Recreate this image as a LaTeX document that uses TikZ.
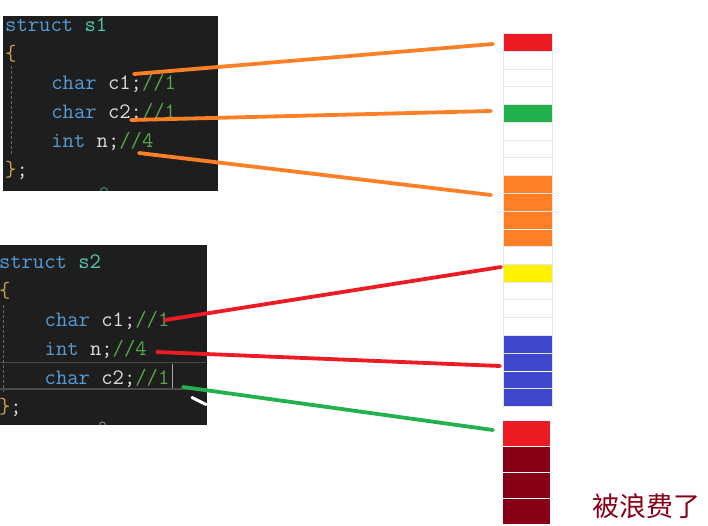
\documentclass[tikz,border=0pt]{standalone}
\usepackage{fontspec}
\newfontfamily\cjkfont{Noto Sans CJK SC}
\usetikzlibrary{positioning,calc}
\definecolor{codebg}{HTML}{1E1E1E}
\definecolor{ckw}{HTML}{569CD6}
\definecolor{cname}{HTML}{4EC9B0}
\definecolor{cid}{HTML}{DCDCDC}
\definecolor{ccmt}{HTML}{57A64A}
\definecolor{cbrace}{HTML}{C9A44C}
\definecolor{cguide}{HTML}{6A6A6A}
\definecolor{cline}{HTML}{4A4A4A}
\definecolor{gridgray}{HTML}{E6E6E6}
\definecolor{pred}{HTML}{ED1C24}
\definecolor{pgreen}{HTML}{22B14C}
\definecolor{porange}{HTML}{FF7F27}
\definecolor{pyellow}{HTML}{FFF200}
\definecolor{pblue}{HTML}{3F48CC}
\definecolor{pdark}{HTML}{880015}
\newcommand{\codefont}{\ttfamily\fontsize{22}{26}\selectfont}
\newcommand{\Kw}[1]{\textcolor{ckw}{#1}}
\newcommand{\Nm}[1]{\textcolor{cname}{#1}}
\newcommand{\Cm}[1]{\textcolor{ccmt}{#1}}
\newcommand{\Br}[1]{\textcolor{cbrace}{#1}}
\tikzset{
  codeln/.style={anchor=base west, inner sep=0pt, text=cid, font=\codefont},
  guide/.style={cguide, line width=0.8pt, dash pattern=on 3pt off 2pt},
  memcell/.style={draw=gridgray, line width=0.9pt, minimum width=49.4pt,
                  minimum height=17.75pt, inner sep=0pt},
  wastecell/.style={minimum width=47.3pt, minimum height=24.6pt, inner sep=0pt},
  linkline/.style={line width=3.8pt, line cap=round},
}

\begin{document}
\begin{tikzpicture}[x=1pt, y=-1pt]
  \clip (0,0) rectangle (708,525);
  % struct s1
  \fill[codebg] (3,16) rectangle (218,190.5);
  \draw[guide] (11,66) -- (11,155);
  \node[codeln] (s1head) at (5,31) {\Kw{struct} \Nm{s1}};
  \node[codeln] (s1open) at (5,60) {\Br{\{}};
  \node[codeln] (s1c1) at (51.2,89) {\Kw{char} c1;\Cm{//1}};
  \node[codeln] (s1c2) at (51.2,118) {\Kw{char} c2;\Cm{//1}};
  \node[codeln] (s1n) at (51.2,147) {\Kw{int} n;\Cm{//4}};
  \node[codeln] (s1close) at (5,176) {\Br{\}};};
  \draw[cname!70!black, line width=1pt] (100.5,191) arc[start angle=180, end angle=360, radius=3.5];

  % struct s2
  \fill[codebg] (0,245) rectangle (207,424.5);
  \draw[cline, line width=1.8pt] (0,362.5) -- (206,362.5) (0,389) -- (206,389);
  \draw[guide] (3.5,305) -- (3.5,392);
  \node[codeln] (s2head) at (-1.2,268) {\Kw{struct} \Nm{s2}};
  \node[codeln] (s2open) at (-1.2,297) {\Br{\{}};
  \node[codeln] (s2c1) at (44.5,326) {\Kw{char} c1;\Cm{//1}};
  \node[codeln] (s2n) at (44.5,355) {\Kw{int} n;\Cm{//4}};
  \node[codeln] (s2c2) at (44.5,384) {\Kw{char} c2;\Cm{//1}};
  \node[codeln] (s2close) at (-1.2,413) {\Br{\}};};
  \draw[gray!70, line width=1.5pt] (172.7,363.5) -- (172.7,388);
  \draw[cid!60!black, line width=1pt] (99.5,425) arc[start angle=180, end angle=360, radius=3];
  \draw[white, line width=3pt, line cap=round] (192,397.5) -- (206,404.5);

  % memory column
  \foreach \i in {0,...,20}
    \node[memcell] (m\i) at (528,{42.375+17.75*\i}) {};
  \foreach \i/\c in {0/pred,4/pgreen,8/porange,9/porange,10/porange,11/porange,
                     13/pyellow,17/pblue,18/pblue,19/pblue,20/pblue}
    \fill[\c] ($(m\i.north west)+(0.8,1.2)$) rectangle ($(m\i.south east)+(-1.6,-0.7)$);
  \foreach \i/\c in {0/pred,1/pdark,2/pdark,3/pdark}
    \node[wastecell, fill=\c] (w\i) at (526.4,{433.5+26*\i}) {};
  \node[font=\cjkfont\fontsize{27}{30}\selectfont, text=pdark, inner sep=0pt]
    (waste) at (646,506) {被浪费了};

  % links
  \coordinate (a1) at (134,74);   \coordinate (b1) at (493,44);
  \coordinate (a2) at (131,120);  \coordinate (b2) at (491,111);
  \coordinate (a3) at (139,153);  \coordinate (b3) at (491,195);
  \coordinate (a4) at (165,320);  \coordinate (b4) at (501,267);
  \coordinate (a5) at (157,352);  \coordinate (b5) at (500,366);
  \coordinate (a6) at (183,387);  \coordinate (b6) at (493,430);
  \draw[linkline, porange] (a1) -- (b1);
  \draw[linkline, porange] (a2) -- (b2);
  \draw[linkline, porange] (a3) -- (b3);
  \draw[linkline, pred] (a4) -- (b4);
  \draw[linkline, pred] (a5) -- (b5);
  \draw[linkline, pgreen] (a6) -- (b6);
\end{tikzpicture}
\end{document}
